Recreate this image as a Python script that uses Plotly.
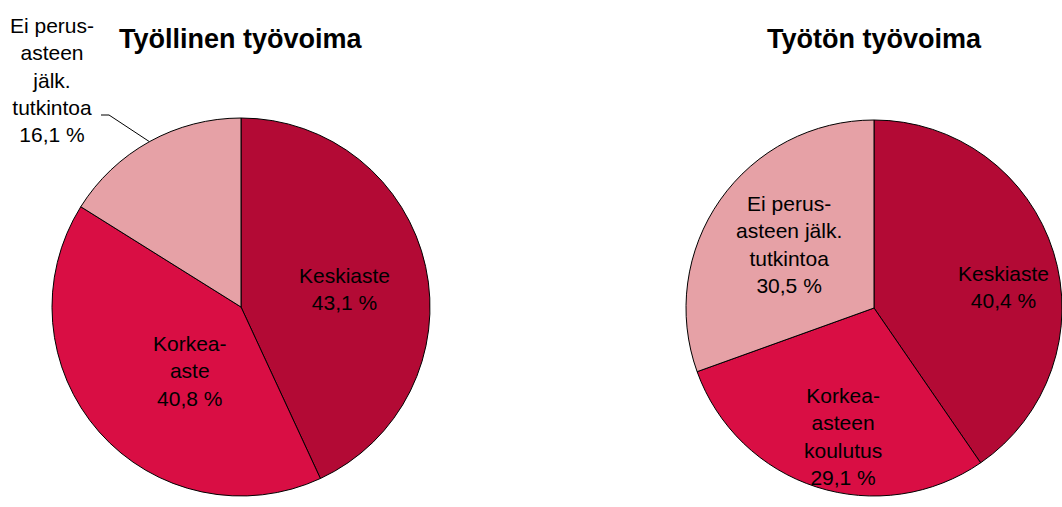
import math
import plotly.graph_objects as go

W, H = 1062, 507

# ---- data ----
titles = ["Työllinen työvoima", "Työtön työvoima"]
left_labels = ["Keskiaste", "Korkea-<br>aste", "Ei perus-<br>asteen<br>jälk.<br>tutkintoa"]
left_values = [43.1, 40.8, 16.1]
right_labels = ["Keskiaste", "Korkea-<br>asteen<br>koulutus", "Ei perus-<br>asteen jälk.<br>tutkintoa"]
right_values = [40.4, 29.1, 30.5]
slice_colors = ["#B30A35", "#D90E44", "#E6A1A6"]

FONT = "Liberation Sans, Arial, Helvetica, sans-serif"
LABEL_SIZE = 21
TITLE_SIZE = 27

# pie placement (pixels): centre x, centre y (from top), radius
left_geom = (241, 307, 189)
right_geom = (874, 308, 188)

# label placement (pixels from top-left)
left_label_pos = [(344, 289), (190, 371), (52, 80)]
right_label_pos = [(1003, 287), (843, 436), (789, 244)]


def domain(geom):
    cx, cy, r = geom
    return dict(x=[(cx - r) / W, (cx + r) / W],
                y=[(H - (cy + r)) / H, (H - (cy - r)) / H])


def fmt(v):
    return f"{v:.1f}".replace(".", ",") + " %"


def px(x, y):
    return x / W, (H - y) / H


fig = go.Figure()

for labels, values, geom in [(left_labels, left_values, left_geom),
                             (right_labels, right_values, right_geom)]:
    fig.add_trace(go.Pie(
        labels=labels, values=values, sort=False,
        direction="clockwise", rotation=0,
        marker=dict(colors=slice_colors, line=dict(color="black", width=1)),
        textinfo="none",
        domain=domain(geom), showlegend=False, hoverinfo="skip",
    ))

annotations = []
# titles
for title, geom in zip(titles, [left_geom, right_geom]):
    x, y = px(geom[0], 39)
    annotations.append(dict(
        text=title, x=x, y=y, xref="paper", yref="paper",
        showarrow=False, xanchor="center", yanchor="middle",
        font=dict(family=FONT, size=TITLE_SIZE, color="black", weight="bold"),
    ))

# slice labels
for labels, values, positions in [(left_labels, left_values, left_label_pos),
                                  (right_labels, right_values, right_label_pos)]:
    for lab, val, (lx, ly) in zip(labels, values, positions):
        x, y = px(lx, ly)
        annotations.append(dict(
            text=lab + "<br>" + fmt(val), x=x, y=y, xref="paper", yref="paper",
            showarrow=False, xanchor="center", yanchor="middle", align="center",
            font=dict(family=FONT, size=LABEL_SIZE, color="black"),
        ))

# leader line from the outside label to the edge of the small slice (left pie)
cx, cy, r = left_geom
total = sum(left_values)
frac = (sum(left_values[:2]) + left_values[2] / 2) / total
theta = 2 * math.pi * frac
tip = px(cx + r * math.sin(theta), cy - r * math.cos(theta))
p0 = px(101, 115)
p1 = px(109, 115)
shapes = [dict(
    type="path", xref="paper", yref="paper",
    path=f"M {p0[0]} {p0[1]} L {p1[0]} {p1[1]} L {tip[0]} {tip[1]}",
    line=dict(color="black", width=1),
)]

fig.update_layout(
    width=W, height=H,
    margin=dict(l=0, r=0, t=0, b=0),
    paper_bgcolor="white", plot_bgcolor="white",
    annotations=annotations,
    shapes=shapes,
)

fig.write_html("out.html",
               config={"displayModeBar": False},
               post_script="document.body.style.margin='0';document.body.style.overflow='hidden';")
